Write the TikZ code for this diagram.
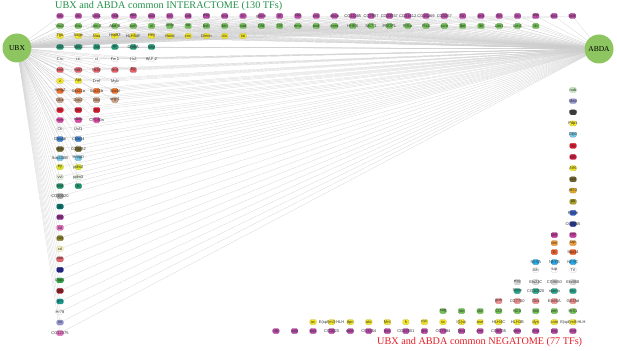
\documentclass[tikz,border=0pt]{standalone}
\usepackage{fontspec}
\setmainfont{Liberation Serif}
\newfontfamily\lblfont{Liberation Sans}
\usetikzlibrary{backgrounds}
\definecolor{hubgreen}{RGB}{141,198,96}
\definecolor{titlegreen}{RGB}{35,145,75}
\definecolor{titlered}{RGB}{228,30,38}
\definecolor{cpur}{RGB}{186,72,168}
\definecolor{cgrn}{RGB}{112,192,84}
\definecolor{cyel}{RGB}{242,228,38}
\definecolor{cteal}{RGB}{32,150,118}
\definecolor{cwht}{RGB}{255,255,255}
\definecolor{csal}{RGB}{232,98,108}
\definecolor{corg}{RGB}{240,112,44}
\definecolor{ctan}{RGB}{204,160,132}
\definecolor{cred}{RGB}{222,24,44}
\definecolor{cpnk}{RGB}{222,74,168}
\definecolor{cblu}{RGB}{62,132,210}
\definecolor{coli}{RGB}{112,100,42}
\definecolor{clbl}{RGB}{118,200,232}
\definecolor{cygr}{RGB}{218,228,34}
\definecolor{cpal}{RGB}{232,240,222}
\definecolor{ctgr}{RGB}{28,150,104}
\definecolor{cgry}{RGB}{168,168,168}
\definecolor{cdtl}{RGB}{0,118,110}
\definecolor{cdpu}{RGB}{140,40,140}
\definecolor{cpk2}{RGB}{230,110,190}
\definecolor{colv}{RGB}{140,130,40}
\definecolor{cpyl}{RGB}{250,248,200}
\definecolor{cdbl}{RGB}{30,32,140}
\definecolor{cdgr}{RGB}{48,168,64}
\definecolor{cdrd}{RGB}{150,20,32}
\definecolor{ctq}{RGB}{20,160,150}
\definecolor{clav}{RGB}{150,150,210}
\definecolor{cnlg}{RGB}{200,232,190}
\definecolor{cdgy}{RGB}{62,62,62}
\definecolor{cred2}{RGB}{210,20,56}
\definecolor{cgld}{RGB}{222,170,40}
\definecolor{coly}{RGB}{172,160,40}
\definecolor{cblu2}{RGB}{50,90,190}
\definecolor{cdbl2}{RGB}{32,52,150}
\definecolor{cmag}{RGB}{200,60,160}
\definecolor{clor}{RGB}{242,160,60}
\definecolor{corr}{RGB}{235,92,40}
\definecolor{csky}{RGB}{40,170,230}
\definecolor{clgy}{RGB}{218,218,218}
\definecolor{ctl2}{RGB}{40,168,140}
\definecolor{clsa}{RGB}{240,140,140}
\tikzset{
  hub/.style={circle,fill=hubgreen,minimum size=29pt,inner sep=0pt,font=\fontsize{7.5}{8}\selectfont},
  tf/.style={fill=#1,draw=#1!80!black,line width=.2pt,rounded corners=1.3pt,minimum width=6.5pt,minimum height=5pt,inner sep=0pt},
  lbl/.style={font=\lblfont\fontsize{4}{4.5}\selectfont,inner sep=0pt,text=black!80},
  title/.style={anchor=west,inner sep=0pt,font=\fontsize{10.2}{12}\selectfont},
  edge/.style={black!20,line width=.2pt}
}
\begin{document}
\begin{tikzpicture}[x=1pt,y=-1pt]
\useasboundingbox (0,0) rectangle (617,350);
\node[hub] (ubx) at (17,48) {UBX};
\node[hub] (abda) at (599,49) {ABDA};
\node[title,text=titlegreen] (top) at (55,6) {UBX and ABDA common INTERACTOME (130 TFs)};
\node[title,text=titlered] (bot) at (377,342) {UBX and ABDA common NEGATOME (77 TFs)};
\foreach \r/\y/\c/\l in {
 1/16/cpur/{lab,ab,bab1,hkb,opa,odd,kni,sob,esg,sna,kr,gsb-n,tll,sqz,crol,disco,CG11085,CG7987,CG33557,CG31612,CG15269,CG3267,ftz,prd,fkh,oc,otp,slp1,ham},
 2/26/cgrn/{Vsx2,slou,unc-4,Abd-B,awh,al,Antp,ap,bsh,btn,cad,Dfd,Dll,ems,exd,exex,HHEX,NK7.1,PROP1,Ptf1a,Ptx1,scro,lbe,lbl,Lim1,Lim3,tin},
 3/36/cyel/{Tgo,Sage,Nau,Hsp83,HLH54F,Hey,Hand,cnc,Dimm,da,tai},
 4/47/cteal/{Atf3,Mef2,Jra,gt,CrebA,kay},
 5/59/cwht/{Crc,cic,ct,Fer1,Hsf,tfAP-2},
 6/70/csal/{knrl,Hr83,Hr38,Hr4,Eg},
 8/91/corg/{HmgZ,Sox21a,Sox21b,SoxN},
 9/100/ctan/{Dbx,Doc2,Mio,org-1},
 10/110/cred/{Rx,Six4,so},
 11/120/cpnk/{mirr,caup,CP190a},
 12/129/cwht/{Oli,Usf1},
 13/139/cblu/{CNo16,CNo14},
 14/149/coli/{Hnf4,CG3232},
 15/158/clbl/{Sox100B,HmgD},
 16/167/cygr/{ey,pdm2},
 17/177/cpal/{vvl,pdm3},
 18/186/ctgr/{Mnf,lz}}
 \foreach \t [count=\j] in \l
  \node[tf=\c,label={[lbl]center:\t}] (i\r-\j) at ({41.7+18.3*\j},\y) {};
\foreach \t/\c [count=\j] in {z/cyel,Apt/cyel,Dref/cwht,Myb/cwht}
  \node[tf=\c,label={[lbl]center:\t}] (i7-\j) at ({41.7+18.3*\j},81) {};
\foreach \t/\c [count=\j] in {CG30020/cgry,ttk/cdtl,pnt/cdpu,lid/cpk2,nej/colv,sd/cpyl,pan/csal,dl/cdbl,Dsp1/cdgr,dsx/cdrd,grh/ctq,Hr78/cwht,sv/clav,CG12375/cpk2}
  \node[tf=\c,label={[lbl]center:\t}] (i19-\j) at (60,{185.5+10.54*\j}) {};
\foreach \r/\y/\c/\s/\l in {
 1/331/cpur/1/{rib,sob,oss,CG1620,salm,CG3254,ovo,CG42501,jim,CG7594,lmd,erm,CG6535,sens,pho,jing,chn},
 2/322/cyel/3/{ac,E(spl)m3-HLH,dpn,ato,Mnt,h,cyc,sc,l(1)sc,ase,HLH4C,HLH3B,dys,cato,E(spl)m8-HLH},
 3/311/cgrn/10/{sug,stc,cbt,Cf2,H2.0,ind,zen,Hr51},
 4/301/clsa/13/{gcm,CG7750,Glis,Ets65A,GATAd},
 5/291/ctl2/14/{Spps,CG10820,mamo,klu},
 6/282/clgy/14/{eyg,Ets21C,CG9650,Ets98B},
 7/270/cwht/15/{Alh,tup,Trl},
 8/262/csky/15/{Nf-YA,Nf-YB,Nf-YC},
 9/252/corr/16/{D,Sox14},
 10/243/clor/16/{dm,tap},
 11/235/cmag/16/{Mitf,crp}}
 \foreach \t [count=\j from \s] in \l
  \node[tf=\c,label={[lbl]center:\t}] (n\r-\j) at ({257.4+18.56*\j},\y) {};
\foreach \t/\c [count=\j] in {nub/cnlg,Mad/clav,Med/cdgy,Pdp1/cyel,Dip3/clbl,tio/cred,tsh/cred2,Atf6/cyel,bun/coli,Atf-2/cgld,pb/coly,Poxm/cblu2,CG3065/cdbl2}
  \node[tf=\c,label={[lbl]center:\t}] (n12-\j) at (573,{78.8+11.17*\j}) {};
\begin{pgfonlayer}{background}
\foreach \r/\n in {1/29,2/27,3/11,4/6,5/6,6/5,7/4,8/4,9/4,10/3,11/3,12/2,13/2,14/2,15/2,16/2,17/2,18/2,19/14}
 \foreach \j in {1,...,\n}
  \draw[edge] (ubx) -- (i\r-\j) (abda) -- (i\r-\j);
\end{pgfonlayer}
\end{tikzpicture}
\end{document}
